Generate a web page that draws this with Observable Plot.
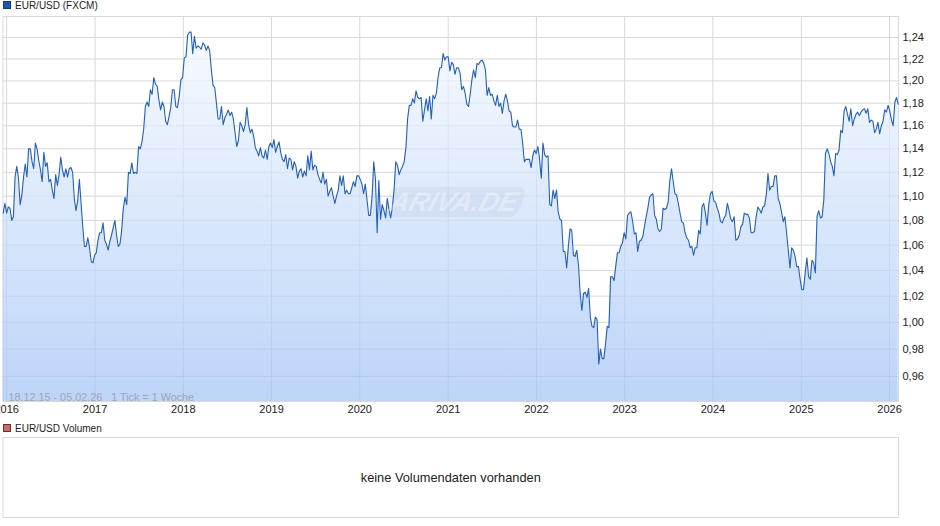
<!DOCTYPE html>
<html><head><meta charset="utf-8">
<script src="https://cdn.jsdelivr.net/npm/d3@7"></script>
<script src="https://cdn.jsdelivr.net/npm/@observablehq/plot@0.6"></script>
<style>
html,body{margin:0;padding:0;background:#fff;overflow:hidden}
#page{position:relative;width:940px;height:526px;font-family:"Liberation Sans",Arial,sans-serif;color:#222}
#page>*{position:absolute}
.legend{font-size:10px;line-height:12px;white-space:nowrap;left:3px}
.legend i{display:inline-block;width:6px;height:6px;border:1px solid;margin-right:4px;vertical-align:0px}
#mark{left:386px;top:187px;width:136px;height:30px;transform:skewX(-18deg);background:rgba(110,125,150,.08);border-radius:8px;
 font:italic bold 27px/30px "Liberation Sans",Arial,sans-serif;color:rgba(255,255,255,.36);text-align:center;letter-spacing:0;pointer-events:none}
</style></head><body>
<div id="page">
<div class="legend" style="top:0"><i style="background:#1a56b0;border-color:#103a78"></i>EUR/USD (FXCM)</div>
<div id="top" style="left:0;top:14px"></div>
<div id="mark">ARIVA.DE</div>
<div class="legend" style="top:423px"><i style="background:#d96464;border-color:#6b3030"></i>EUR/USD Volumen</div>
<div id="vol" style="left:0;top:436px"></div>
</div>
<script>
const closes2016 = [1.086,1.094,1.086,1.091,1.090,1.080,1.083,1.116,1.125,1.115,1.093,1.101,1.116,1.127,1.116,1.140,1.140,1.129,1.123,1.145,1.140,1.130,1.122,1.112,1.137,1.125,1.128,1.112,1.114,1.105,1.098,1.118,1.109,1.118,1.133,1.122,1.116,1.123,1.116,1.123,1.124,1.120,1.098,1.088,1.096,1.114,1.094,1.075,1.059,1.059,1.066,1.058,1.047];
const closes2017 = [1.046,1.052,1.054,1.064,1.070,1.070,1.078,1.064,1.061,1.056,1.063,1.068,1.074,1.080,1.068,1.059,1.061,1.072,1.090,1.099,1.093,1.120,1.119,1.128,1.119,1.120,1.119,1.142,1.140,1.146,1.157,1.177,1.181,1.177,1.192,1.188,1.203,1.197,1.195,1.183,1.174,1.181,1.177,1.164,1.161,1.168,1.176,1.192,1.192,1.177,1.176,1.186,1.201,1.203];
const closes2018 = [1.221,1.222,1.242,1.245,1.245,1.225,1.241,1.230,1.232,1.231,1.229,1.235,1.233,1.228,1.232,1.228,1.210,1.196,1.194,1.180,1.166,1.166,1.177,1.161,1.167,1.170,1.174,1.169,1.172,1.166,1.154,1.142,1.147,1.163,1.160,1.155,1.161,1.176,1.161,1.154,1.157,1.151,1.141,1.138,1.134,1.141,1.134,1.132,1.139,1.131,1.142,1.145];
const closes2019 = [1.141,1.148,1.137,1.142,1.146,1.137,1.131,1.129,1.135,1.123,1.132,1.131,1.122,1.129,1.125,1.115,1.121,1.123,1.116,1.121,1.117,1.134,1.122,1.138,1.122,1.126,1.125,1.118,1.114,1.111,1.120,1.110,1.114,1.100,1.104,1.107,1.100,1.094,1.100,1.105,1.117,1.109,1.117,1.102,1.105,1.102,1.102,1.107,1.112,1.108];
const closes2020 = [1.117,1.117,1.114,1.110,1.102,1.110,1.097,1.084,1.084,1.100,1.129,1.114,1.070,1.113,1.081,1.093,1.088,1.082,1.098,1.089,1.082,1.091,1.105,1.129,1.126,1.118,1.122,1.125,1.129,1.141,1.166,1.178,1.178,1.184,1.180,1.191,1.185,1.184,1.185,1.164,1.174,1.184,1.173,1.186,1.166,1.187,1.184,1.189,1.203,1.212,1.212,1.225];
const closes2021 = [1.219,1.222,1.222,1.209,1.217,1.215,1.206,1.212,1.212,1.207,1.192,1.195,1.189,1.179,1.177,1.188,1.201,1.210,1.203,1.216,1.215,1.218,1.219,1.216,1.210,1.187,1.194,1.187,1.188,1.182,1.178,1.187,1.177,1.180,1.171,1.182,1.188,1.182,1.173,1.172,1.160,1.159,1.159,1.165,1.157,1.157,1.145,1.129,1.131,1.131,1.131,1.124];
const closes2022 = [1.134,1.139,1.136,1.142,1.131,1.115,1.145,1.135,1.133,1.134,1.093,1.092,1.105,1.098,1.105,1.087,1.081,1.080,1.055,1.055,1.042,1.059,1.073,1.072,1.052,1.051,1.056,1.044,1.022,1.009,1.022,1.023,1.019,1.026,1.004,0.997,0.996,1.004,1.002,0.969,0.980,0.973,0.973,0.984,0.997,0.996,1.035,1.035,1.032,1.043,1.054,1.054];
const closes2023 = [1.059,1.062,1.070,1.065,1.084,1.086,1.087,1.079,1.069,1.070,1.055,1.063,1.064,1.067,1.075,1.083,1.090,1.099,1.101,1.102,1.084,1.081,1.073,1.071,1.073,1.090,1.089,1.090,1.095,1.113,1.123,1.112,1.102,1.101,1.094,1.086,1.079,1.078,1.070,1.066,1.064,1.058,1.059,1.052,1.058,1.058,1.072,1.069,1.091,1.094,1.086];
const closes2024 = [1.076,1.093,1.102,1.104,1.096,1.095,1.090,1.086,1.079,1.078,1.082,1.084,1.094,1.088,1.081,1.079,1.083,1.064,1.065,1.068,1.075,1.077,1.086,1.085,1.085,1.082,1.070,1.070,1.071,1.083,1.091,1.089,1.086,1.091,1.092,1.101,1.119,1.105,1.108,1.108,1.117,1.117,1.098,1.094,1.087,1.079,1.083,1.070,1.056,1.042,1.058];
const closes2025 = [1.056,1.051,1.043,1.043,1.033,1.025,1.025,1.038,1.050,1.035,1.033,1.048,1.046,1.038,1.083,1.088,1.082,1.083,1.097,1.136,1.140,1.136,1.129,1.125,1.117,1.136,1.135,1.139,1.156,1.154,1.173,1.177,1.170,1.164,1.175,1.160,1.166,1.170,1.172,1.169,1.172,1.174,1.175,1.171,1.175,1.163,1.165,1.164,1.154,1.157,1.163,1.153];
const closes2026 = [1.160,1.164,1.174,1.172,1.178,1.173,1.165,1.160,1.181,1.185,1.179];

const yTicks = [0.96,0.98,1.00,1.02,1.04,1.06,1.08,1.10,1.12,1.14,1.16,1.18,1.20,1.22,1.24];
const yearTicks = [2016,2017,2018,2019,2020,2021,2022,2023,2024,2025,2026];
const firstWeek = Date.UTC(2015,11,18);
const closes = [...closes2016,...closes2017,...closes2018,...closes2019,...closes2020,...closes2021,...closes2022,...closes2023,...closes2024,...closes2025,...closes2026];
const weekly = closes.map((close,i)=>({date:new Date(firstWeek+i*7*864e5),close}));
const yearDates = yearTicks.map(y=>new Date(Date.UTC(y,0,1)));
const yMin = 0.942, yMax = 1.2598;

const defs = () => {
  const d = d3.create("svg:defs");
  const g = d.append("linearGradient").attr("id","fade").attr("x1",0).attr("x2",0).attr("y1",0).attr("y2",1);
  g.append("stop").attr("offset",0).attr("stop-color","#f5f9ff").attr("stop-opacity",.7);
  g.append("stop").attr("offset",1).attr("stop-color","#9fc2f5").attr("stop-opacity",.7);
  return d.node();
};

document.getElementById("top").append(Plot.plot({
  width:940,height:404,marginTop:2,marginBottom:17,marginLeft:2.5,marginRight:42,
  style:{fontFamily:'"Liberation Sans",Arial,sans-serif',fontSize:"11px",color:"#222",background:"transparent"},
  x:{type:"utc",domain:[new Date(Date.UTC(2015,11,17)),new Date(Date.UTC(2026,1,7))]},
  y:{type:"log",domain:[yMin,yMax]},
  marks:[
    defs,
    Plot.gridY(yTicks,{stroke:"#d9d9d9",strokeOpacity:1}),
    Plot.gridX(yearDates,{stroke:"#d9d9d9",strokeOpacity:1}),
    Plot.frame({stroke:"#d9d9d9"}),
    Plot.areaY(weekly,{x:"date",y1:()=>yMin,y2:"close",fill:"url(#fade)"}),
    Plot.lineY(weekly,{x:"date",y:"close",stroke:"#2260bd",strokeWidth:1.1}),
    Plot.axisY(yTicks,{anchor:"right",tickSize:0,tickPadding:4,label:null,tickFormat:d=>d.toFixed(2).replace(".",",")}),
    Plot.axisX(yearDates,{anchor:"bottom",tickSize:0,tickPadding:4,label:null,tickFormat:d=>String(d.getUTCFullYear())}),
    Plot.text(["18.12.15 - 05.02.26   1 Tick = 1 Woche"],{frameAnchor:"bottom-left",dx:5.5,dy:-1,fill:"#9ea7b4",fontSize:10.8,lineAnchor:"bottom"})
  ]
}));

document.getElementById("vol").append(Plot.plot({
  width:940,height:82,marginTop:1,marginBottom:1,marginLeft:2.5,marginRight:42,
  style:{fontFamily:'"Liberation Sans",Arial,sans-serif',fontSize:"12px",color:"#222"},
  x:{axis:null},y:{axis:null},
  marks:[
    Plot.frame({stroke:"#d9d9d9"}),
    Plot.text(["keine Volumendaten vorhanden"],{frameAnchor:"middle",fill:"#222",fontSize:12.8})
  ]
}));
</script>
</body></html>
